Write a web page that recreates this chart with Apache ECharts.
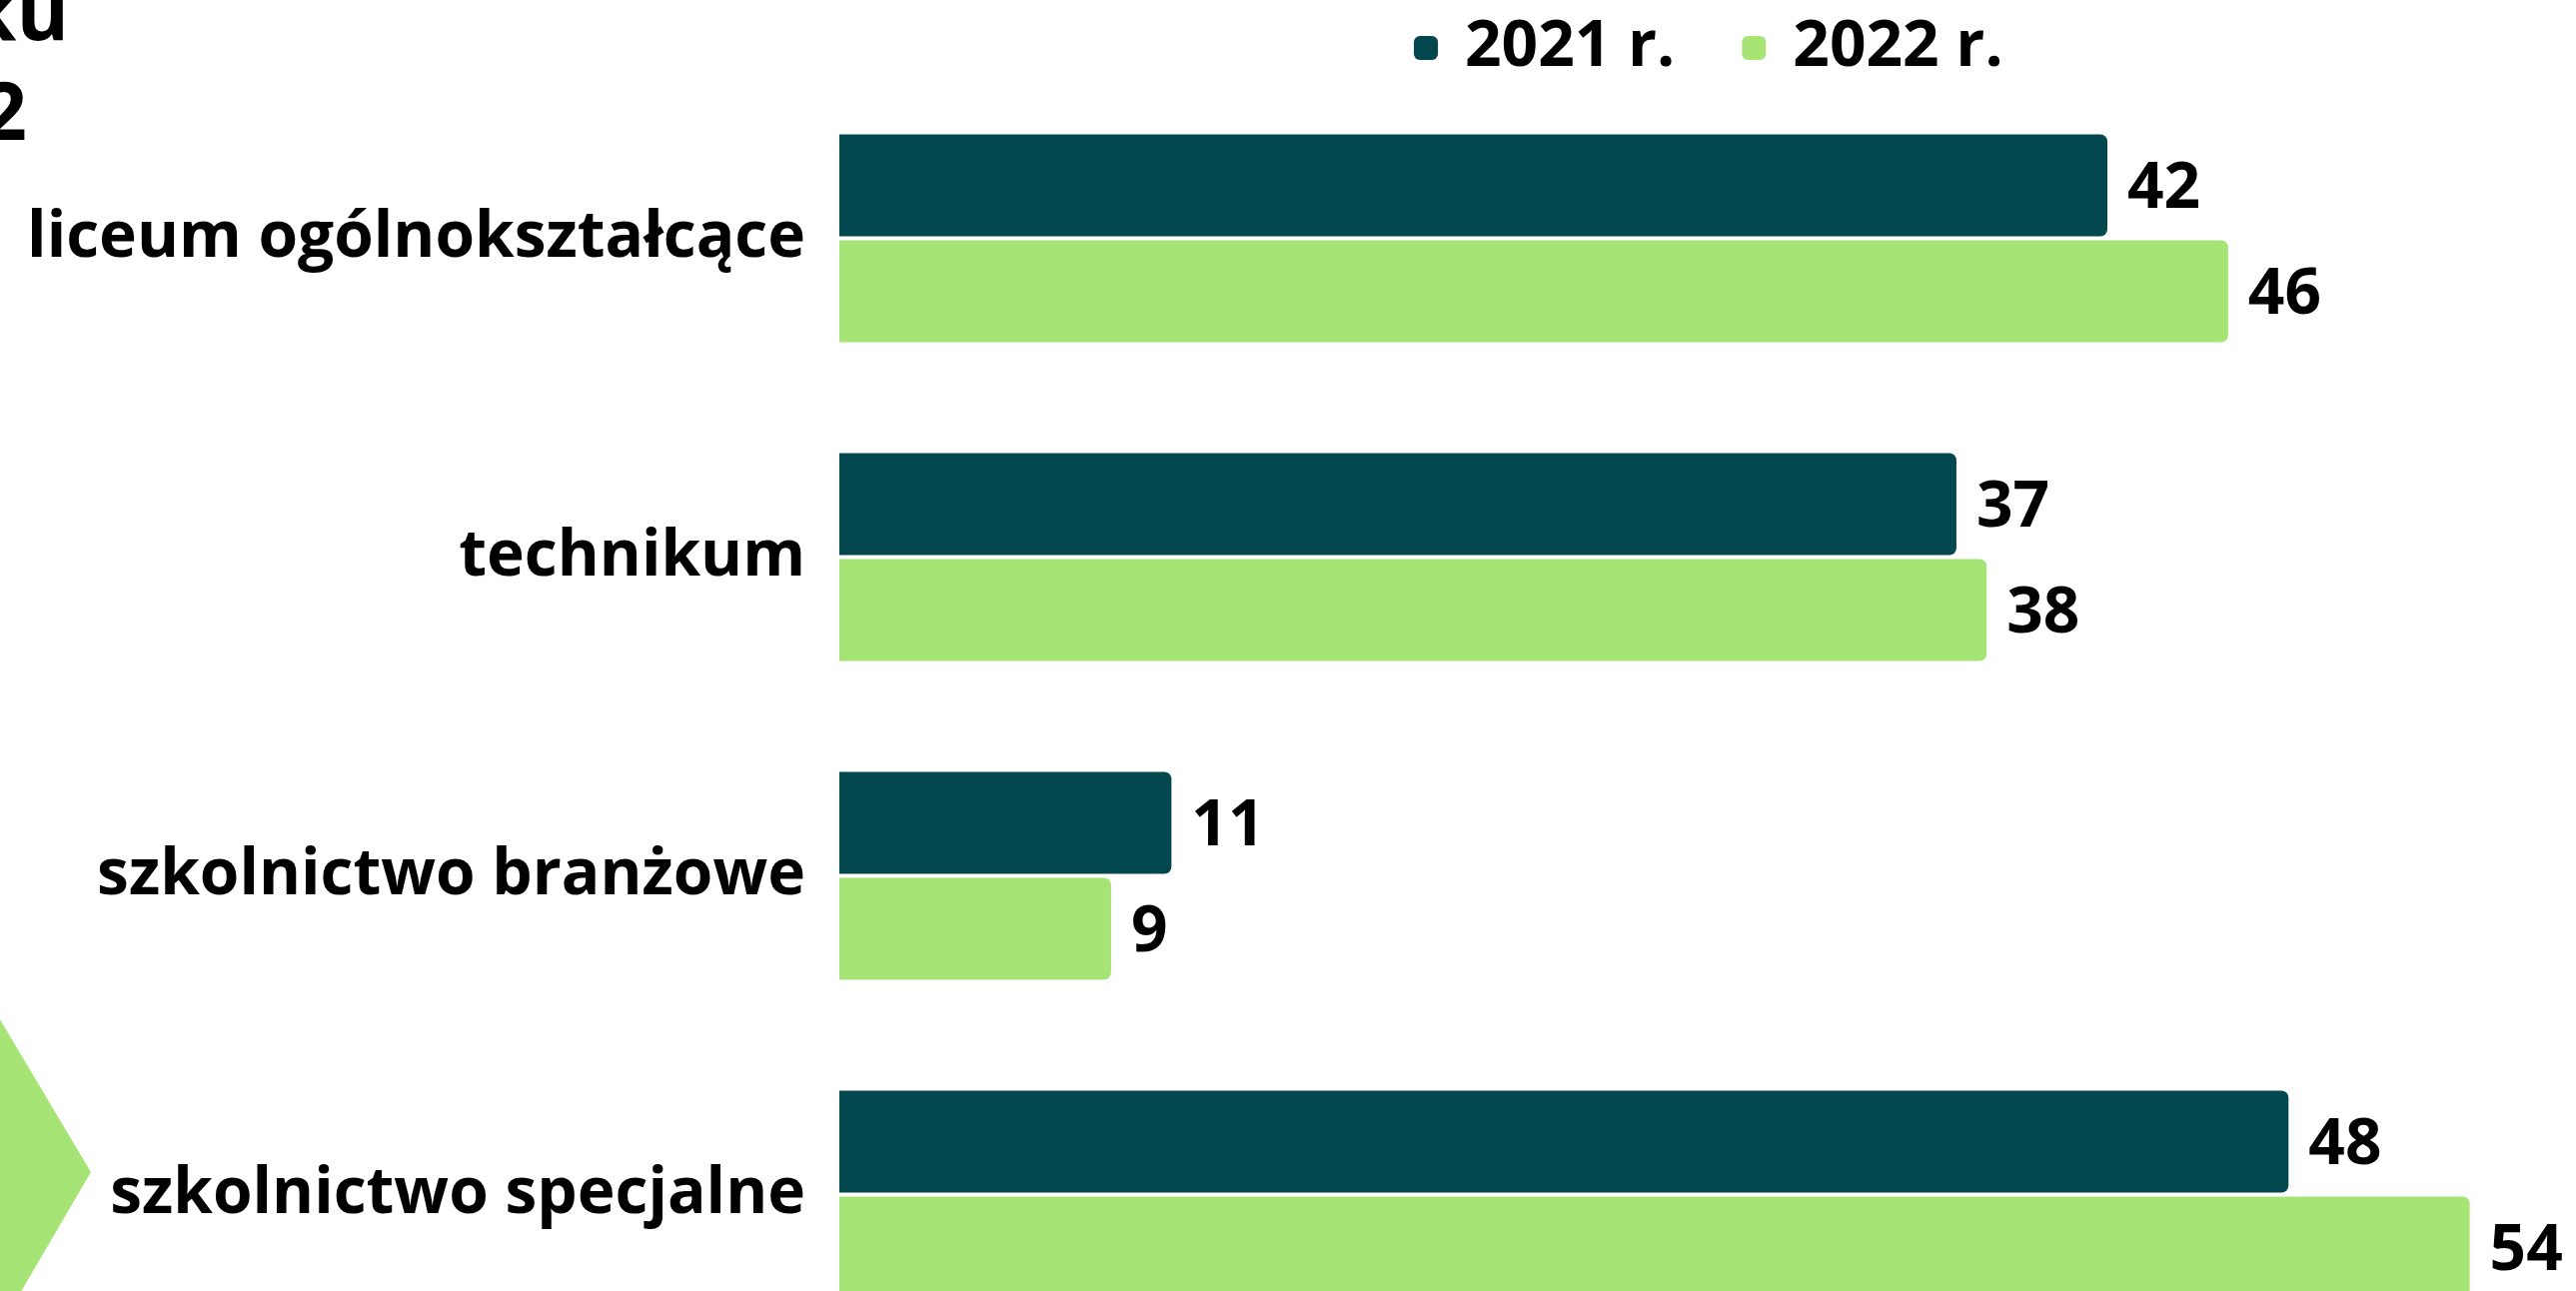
<!DOCTYPE html>
<html>
<head>
<meta charset="utf-8">
<script src="https://cdn.jsdelivr.net/npm/echarts@6/dist/echarts.min.js"></script>
<style>
  html, body { margin: 0; padding: 0; background: #fff; }
  #chart { width: 2578px; height: 1292px; }
</style>
</head>
<body>
<div id="chart"></div>
<script>
// chart data
const categories = ['liceum ogólnokształcące', 'technikum', 'szkolnictwo branżowe', 'szkolnictwo specjalne'];
const seriesNames = ['2021 r.', '2022 r.'];
const values2021 = [42, 37, 11, 48];
const values2022 = [46, 38, 9, 54];

const DARK = '#03474f';
const GREEN = '#a6e476';
const FONT = '"Open Sans", "Noto Sans", sans-serif';

const myChart = echarts.init(document.getElementById('chart'));

const barLabel = {
    show: true,
    position: 'right',
    distance: 20,
    offset: [0, 4],
    color: '#000',
    fontFamily: FONT,
    fontWeight: 'bold',
    fontSize: 64
};

const option = {
    backgroundColor: '#ffffff',
    animation: false,
    legend: {
        data: seriesNames,
        left: 1410,
        top: 11,
        icon: 'roundRect',
        itemWidth: 24,
        itemHeight: 24,
        itemGap: 67,
        textStyle: {
            color: '#000',
            fontFamily: FONT,
            fontWeight: 'bold',
            fontSize: 64,
            lineHeight: 64,
            padding: [0, 0, 0, 22]
        }
    },
    grid: {
        left: 840,
        right: 46,
        top: 79,
        bottom: -63,
        outerBoundsMode: 'none'
    },
    xAxis: {
        type: 'value',
        min: 0,
        max: 56,
        show: false,
        splitLine: { show: false }
    },
    yAxis: {
        type: 'category',
        data: categories,
        inverse: true,
        axisLine: { show: false },
        axisTick: { show: false },
        axisLabel: {
            margin: 34,
            color: '#000',
            fontFamily: FONT,
            fontWeight: 'bold',
            fontSize: 64
        }
    },
    series: [
        {
            name: seriesNames[0],
            type: 'bar',
            data: values2021,
            barWidth: 102,
            barGap: '4%',
            itemStyle: { color: DARK, borderRadius: [0, 7, 7, 0] },
            label: barLabel
        },
        {
            name: seriesNames[1],
            type: 'bar',
            data: values2022,
            barWidth: 102,
            barGap: '4%',
            itemStyle: { color: GREEN, borderRadius: [0, 7, 7, 0] },
            label: barLabel
        }
    ],
    graphic: [
        // cut-off heading fragments at the top-left corner
        {
            type: 'text',
            style: {
                text: 'ku', x: 69, y: 57, align: 'right', verticalAlign: 'bottom',
                fill: '#000', font: 'bold 80px ' + FONT
            }
        },
        {
            type: 'text',
            style: {
                text: '2', x: 27, y: 157, align: 'right', verticalAlign: 'bottom',
                fill: '#000', font: 'bold 80px ' + FONT
            }
        },
        // green chevron on the left edge
        {
            type: 'polygon',
            shape: { points: [[-2, 1017], [91, 1173], [-2, 1332]] },
            style: { fill: GREEN }
        }
    ]
};

myChart.setOption(option);
</script>
</body>
</html>
